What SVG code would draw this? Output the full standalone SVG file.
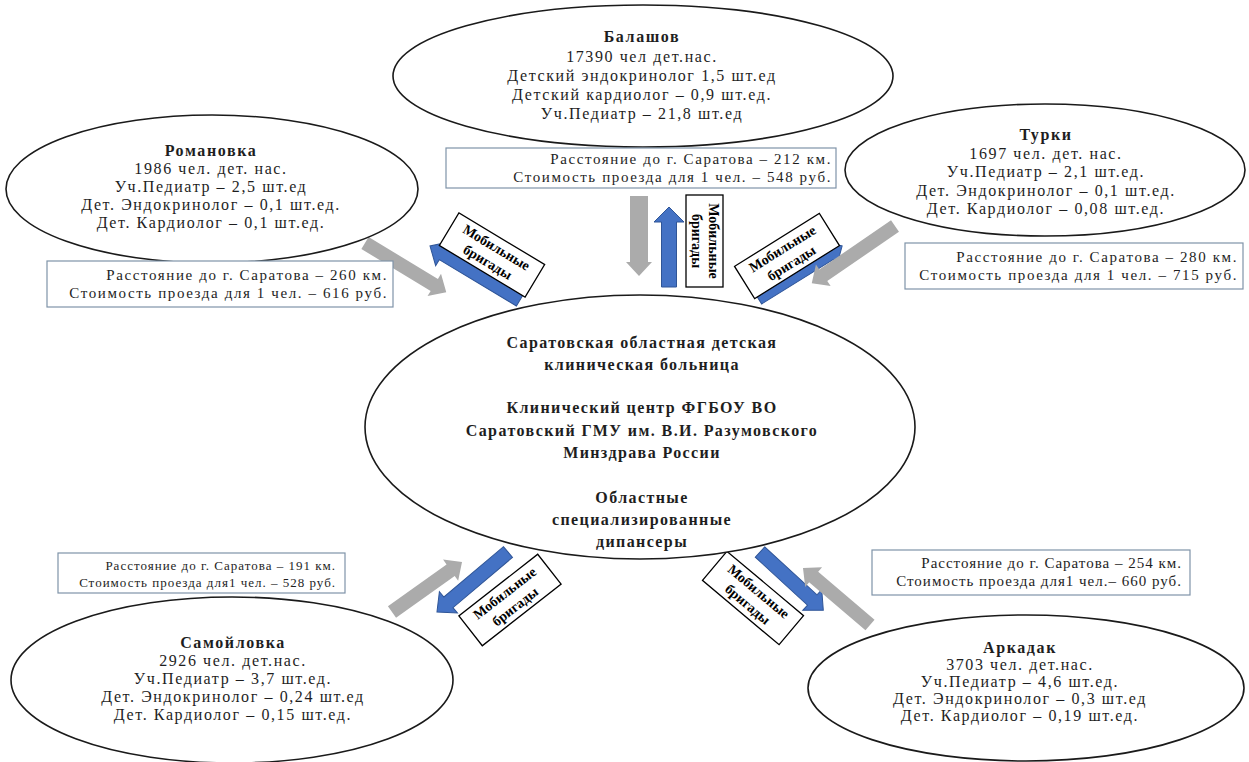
<svg xmlns="http://www.w3.org/2000/svg" width="1249" height="762" viewBox="0 0 1249 762">
<style>
.ell{fill:#fff;stroke:#1a1a1a;stroke-width:1.6}
.t{font-family:"Liberation Serif","Times New Roman",serif;font-size:16px;fill:#1e1e1e;letter-spacing:1.6px;text-anchor:middle}
.b{font-weight:bold}
.c{letter-spacing:1.4px}
.box{fill:#fff;stroke:#7f93a8;stroke-width:1.2}
.bt{font-family:"Liberation Serif","Times New Roman",serif;font-size:15px;fill:#1e1e1e;letter-spacing:1.6px;text-anchor:end}
.gray{fill:#ababab}
.blue{fill:#4472c4;stroke:#2f5597;stroke-width:1}
.lbl{fill:#fff;stroke:#000;stroke-width:1.3}
.lt{font-family:"Liberation Serif","Times New Roman",serif;font-weight:bold;font-size:14px;fill:#000;text-anchor:middle}
</style>
<rect width="1249" height="762" fill="#fff"/>
<g id="connectors">
<polygon class="gray" transform="translate(365,243) rotate(31.2)" points="0,-7 81,-7 81,-13 95,0 81,13 81,7 0,7"/>
<polygon class="blue" transform="translate(520,300) rotate(-149)" points="0,-7 90,-7 90,-14 105,0 90,14 90,7 0,7"/>
<polygon class="gray" transform="translate(639,196) rotate(90)" points="0,-9 66,-9 66,-13 80,0 66,13 66,9 0,9"/>
<polygon class="blue" transform="translate(669,287) rotate(-90)" points="0,-7.5 65,-7.5 65,-15 80,0 65,15 65,7.5 0,7.5"/>
<polygon class="blue" transform="translate(758,298) rotate(-31.8)" points="0,-7 84,-7 84,-14 99,0 84,14 84,7 0,7"/>
<polygon class="gray" transform="translate(895,226) rotate(145.5)" points="0,-7 87,-7 87,-13 101,0 87,13 87,7 0,7"/>
<polygon class="blue" transform="translate(508,552) rotate(139.8)" points="0,-7 78,-7 78,-14 93,0 78,14 78,7 0,7"/>
<polygon class="gray" transform="translate(392,612) rotate(-35.5)" points="0,-7 72,-7 72,-13 86,0 72,13 72,7 0,7"/>
<polygon class="blue" transform="translate(760,552) rotate(42.6)" points="0,-7 71,-7 71,-14 86,0 71,14 71,7 0,7"/>
<polygon class="gray" transform="translate(870,625) rotate(-139.6)" points="0,-7 74,-7 74,-13 88,0 74,13 74,7 0,7"/>
<g id="label-romanovka" transform="translate(492,255) rotate(31)">
<rect class="lbl" x="-50" y="-19" width="100" height="38"/>
<text class="lt" x="0" y="-4">Мобильные</text><text class="lt" x="0" y="13">бригады</text>
</g>
<g id="label-balashov">
<rect class="lbl" x="686" y="195" width="37" height="92"/>
<g transform="translate(704.5,241) rotate(90)"><text class="lt" x="0" y="-4">Мобильные</text><text class="lt" x="0" y="13">бригады</text></g>
</g>
<g id="label-turki" transform="translate(787,256) rotate(-32)">
<rect class="lbl" x="-50" y="-19" width="100" height="38"/>
<text class="lt" x="0" y="-4">Мобильные</text><text class="lt" x="0" y="13">бригады</text>
</g>
<g id="label-samoilovka" transform="translate(510,600) rotate(-38)">
<rect class="lbl" x="-50" y="-19" width="100" height="38"/>
<text class="lt" x="0" y="-4">Мобильные</text><text class="lt" x="0" y="13">бригады</text>
</g>
<g id="label-arkadak" transform="translate(753,598) rotate(40)">
<rect class="lbl" x="-50" y="-19" width="100" height="38"/>
<text class="lt" x="0" y="-4">Мобильные</text><text class="lt" x="0" y="13">бригады</text>
</g>
</g>
<g id="balashov">
<ellipse class="ell" cx="643" cy="76" rx="250" ry="71"/>
<text class="t b" x="642" y="42">Балашов</text>
<text class="t" x="642" y="62">17390 чел дет.нас.</text>
<text class="t" x="642" y="81">Детский эндокринолог 1,5 шт.ед</text>
<text class="t" x="642" y="100">Детский кардиолог – 0,9 шт.ед.</text>
<text class="t" x="642" y="119">Уч.Педиатр – 21,8 шт.ед</text>
</g>
<g id="balashov-info">
<rect class="box" x="446" y="148" width="390" height="40"/>
<text class="bt" x="832" y="164">Расстояние до г. Саратова – 212 км.</text>
<text class="bt" x="832" y="182">Стоимость проезда для 1 чел. – 548 руб.</text>
</g>
<g id="romanovka">
<ellipse class="ell" cx="212" cy="189" rx="206" ry="74"/>
<text class="t b" x="211" y="156">Романовка</text>
<text class="t" x="211" y="174">1986 чел. дет. нас.</text>
<text class="t" x="211" y="192">Уч.Педиатр – 2,5 шт.ед</text>
<text class="t" x="211" y="210">Дет. Эндокринолог – 0,1 шт.ед.</text>
<text class="t" x="211" y="228">Дет. Кардиолог – 0,1 шт.ед.</text>
</g>
<g id="romanovka-info">
<rect class="box" x="47" y="261" width="346" height="46"/>
<text class="bt" x="388" y="280">Расстояние до г. Саратова – 260 км.</text>
<text class="bt" x="388" y="298">Стоимость проезда для 1 чел. – 616 руб.</text>
</g>
<g id="turki">
<ellipse class="ell" cx="1045" cy="170" rx="200" ry="66"/>
<text class="t b" x="1046" y="140">Турки</text>
<text class="t" x="1046" y="159">1697 чел. дет. нас.</text>
<text class="t" x="1046" y="177">Уч.Педиатр – 2,1 шт.ед.</text>
<text class="t" x="1046" y="196">Дет. Эндокринолог – 0,1 шт.ед.</text>
<text class="t" x="1046" y="214">Дет. Кардиолог – 0,08 шт.ед.</text>
</g>
<g id="turki-info">
<rect class="box" x="905" y="243" width="338" height="46"/>
<text class="bt" x="1238" y="262">Расстояние до г. Саратова – 280 км.</text>
<text class="bt" x="1238" y="280">Стоимость проезда для 1 чел. – 715 руб.</text>
</g>
<g id="center">
<ellipse class="ell" cx="640" cy="427" rx="275" ry="132"/>
<text class="t b c" x="642" y="348">Саратовская областная детская</text>
<text class="t b c" x="642" y="370">клиническая больница</text>
<text class="t b c" x="642" y="413">Клинический центр ФГБОУ ВО</text>
<text class="t b c" x="642" y="436">Саратовский ГМУ им. В.И. Разумовского</text>
<text class="t b c" x="642" y="458">Минздрава России</text>
<text class="t b c" x="642" y="503">Областные</text>
<text class="t b c" x="642" y="525">специализированные</text>
<text class="t b c" x="642" y="547">дипансеры</text>
</g>
<g id="samoilovka-info">
<rect class="box" x="58" y="553" width="287" height="40"/>
<text class="bt" x="336" y="570" style="font-size:13px;letter-spacing:1px">Расстояние до г. Саратова – 191 км.</text>
<text class="bt" x="336" y="587" style="font-size:13px;letter-spacing:1px">Стоимость проезда для1 чел. – 528 руб.</text>
</g>
<g id="samoilovka">
<ellipse class="ell" cx="232" cy="680" rx="221" ry="83"/>
<text class="t b" x="233" y="648">Самойловка</text>
<text class="t" x="233" y="666">2926 чел. дет.нас.</text>
<text class="t" x="233" y="684">Уч.Педиатр – 3,7 шт.ед.</text>
<text class="t" x="233" y="702">Дет. Эндокринолог – 0,24 шт.ед</text>
<text class="t" x="233" y="720">Дет. Кардиолог – 0,15 шт.ед.</text>
</g>
<g id="arkadak-info">
<rect class="box" x="872" y="550" width="318" height="45"/>
<text class="bt" x="1182" y="568" style="letter-spacing:1px">Расстояние до г. Саратова – 254 км.</text>
<text class="bt" x="1182" y="586" style="letter-spacing:1px">Стоимость проезда для1 чел.– 660 руб.</text>
</g>
<g id="arkadak">
<ellipse class="ell" cx="1026" cy="688" rx="218" ry="73"/>
<text class="t b" x="1020" y="653">Аркадак</text>
<text class="t" x="1020" y="670">3703 чел. дет.нас.</text>
<text class="t" x="1020" y="687">Уч.Педиатр – 4,6 шт.ед.</text>
<text class="t" x="1020" y="704">Дет. Эндокринолог – 0,3 шт.ед</text>
<text class="t" x="1020" y="721">Дет. Кардиолог – 0,19 шт.ед.</text>
</g>
</svg>
